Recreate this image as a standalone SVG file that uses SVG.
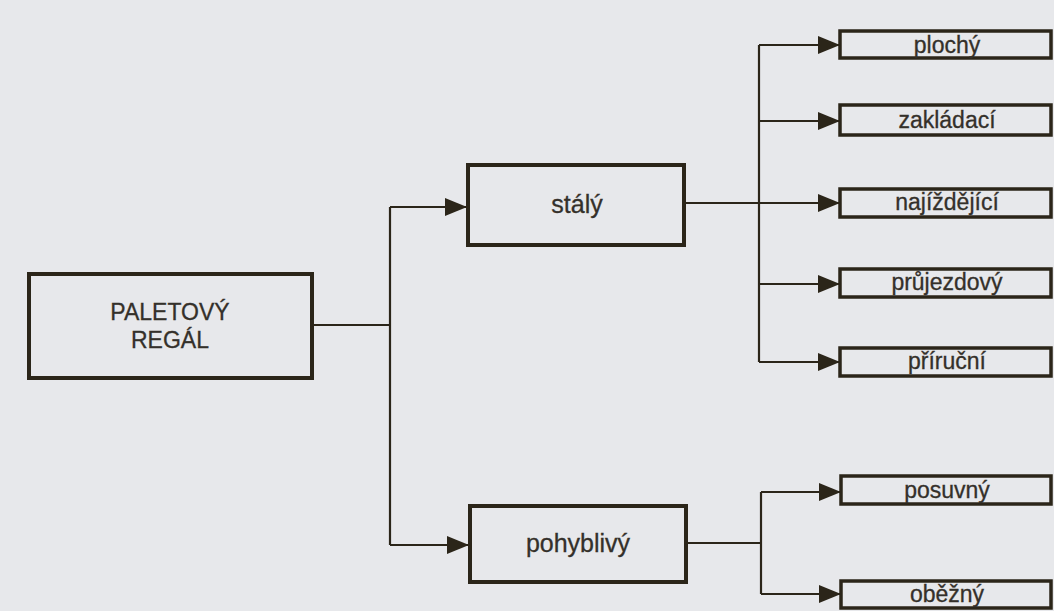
<svg xmlns="http://www.w3.org/2000/svg" width="1054" height="611" viewBox="0 0 1054 611">
<defs>
<style>
.box{fill:none;stroke:#2b2519;stroke-width:4}
.sbox{fill:none;stroke:#2b2519;stroke-width:3.5}
.ln{fill:none;stroke:#2b2519;stroke-width:2.2}
.t{font-family:"Liberation Sans",Arial,sans-serif;fill:#34302a;text-anchor:middle;stroke:#34302a;stroke-width:0.3}
</style>
<marker id="ah" markerUnits="userSpaceOnUse" markerWidth="22" markerHeight="18" refX="21" refY="9" orient="auto">
<path d="M0,0 L22,9 L0,18 Z" fill="#2b2519"/>
</marker>
</defs>
<rect width="1054" height="611" fill="#e7e8eb"/>
<g id="connectors">
<path class="ln" d="M313,325 H390"/>
<path class="ln" d="M390,207 V545"/>
<path class="ln" d="M390,207 H466" marker-end="url(#ah)"/>
<path class="ln" d="M390,545 H468" marker-end="url(#ah)"/>
<path class="ln" d="M685,203 H759"/>
<path class="ln" d="M759,45 V362"/>
<path class="ln" d="M759,45 H839" marker-end="url(#ah)"/>
<path class="ln" d="M759,121 H839" marker-end="url(#ah)"/>
<path class="ln" d="M759,203 H839" marker-end="url(#ah)"/>
<path class="ln" d="M759,284 H839" marker-end="url(#ah)"/>
<path class="ln" d="M759,362 H839" marker-end="url(#ah)"/>
<path class="ln" d="M687,543 H761"/>
<path class="ln" d="M761,492 V594"/>
<path class="ln" d="M761,492 H840" marker-end="url(#ah)"/>
<path class="ln" d="M761,594 H840" marker-end="url(#ah)"/>
</g>
<g id="paletovy-regal">
<rect class="box" x="29" y="274" width="283" height="104"/>
<text class="t" x="170" y="320" font-size="23">PALETOVÝ</text>
<text class="t" x="170" y="348" font-size="23">REGÁL</text>
</g>
<g id="staly">
<rect class="box" x="468" y="165" width="216" height="80"/>
<text class="t" x="577" y="213" font-size="25">stálý</text>
</g>
<g id="pohyblivy">
<rect class="box" x="470" y="506" width="216" height="76"/>
<text class="t" x="578" y="552" font-size="25">pohyblivý</text>
</g>
<g id="plochy">
<rect class="sbox" x="840" y="31" width="211" height="27"/>
<text class="t" x="947" y="53" font-size="23">plochý</text>
</g>
<g id="zakladaci">
<rect class="sbox" x="840" y="105" width="211" height="30"/>
<text class="t" x="947" y="128" font-size="23">zakládací</text>
</g>
<g id="najizdejici">
<rect class="sbox" x="840" y="189" width="211" height="28"/>
<text class="t" x="947" y="210" font-size="23">najíždějící</text>
</g>
<g id="prujezdovy">
<rect class="sbox" x="840" y="269" width="211" height="28"/>
<text class="t" x="947" y="290" font-size="23">průjezdový</text>
</g>
<g id="prirucni">
<rect class="sbox" x="840" y="348" width="211" height="28"/>
<text class="t" x="947" y="369" font-size="23">příruční</text>
</g>
<g id="posuvny">
<rect class="sbox" x="841" y="476" width="210" height="28"/>
<text class="t" x="947" y="498" font-size="23">posuvný</text>
</g>
<g id="obezny">
<rect class="sbox" x="841" y="581" width="210" height="27"/>
<text class="t" x="947" y="602" font-size="23">oběžný</text>
</g>
</svg>
